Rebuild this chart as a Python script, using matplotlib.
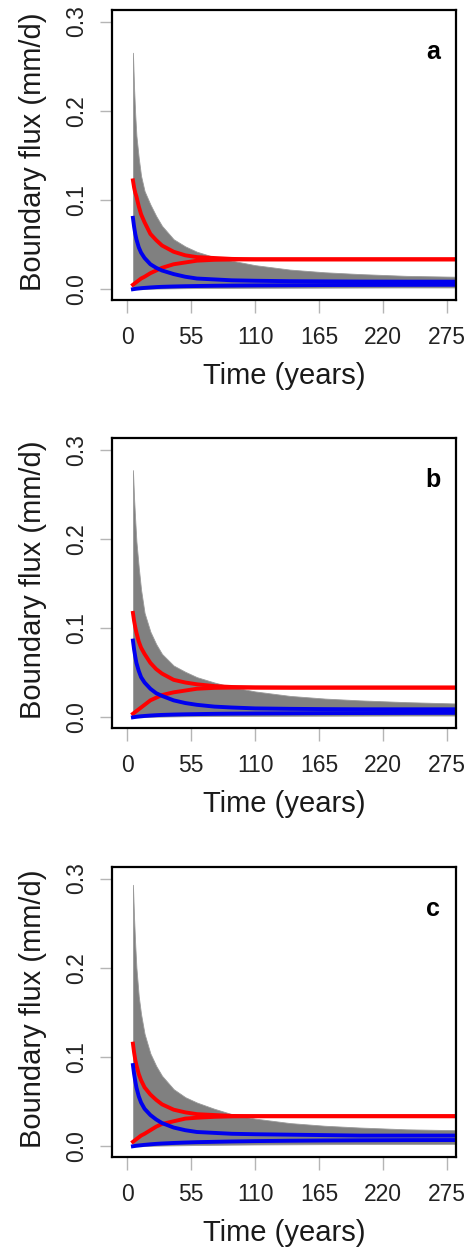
import matplotlib
matplotlib.use('Agg')
from matplotlib import pyplot as plt

plt.rcParams['font.family'] = ['Liberation Sans', 'DejaVu Sans']

# time (years)
years = [5, 6, 7, 8, 10, 12, 15, 20, 25, 30, 40, 50, 60, 75, 90, 110, 140, 170, 200, 240, 283]

# panel a
gray_hi_a = [0.265, 0.225, 0.195, 0.172, 0.147, 0.127, 0.110, 0.095, 0.082, 0.071, 0.056, 0.048, 0.042, 0.036, 0.032, 0.027, 0.022, 0.019, 0.017, 0.015, 0.014]
gray_lo_a = [0.0, 0.0, 0.0, 0.0, 0.0, 0.0, 0.0003, 0.0005, 0.0007, 0.0008, 0.001, 0.0012, 0.0013, 0.0014, 0.0015, 0.0016, 0.0017, 0.0018, 0.0019, 0.002, 0.002]
red_hi_a = [0.122, 0.114, 0.108, 0.104, 0.093, 0.084, 0.075, 0.062, 0.055, 0.049, 0.042, 0.038, 0.036, 0.035, 0.034, 0.0335, 0.0335, 0.0335, 0.0335, 0.0335, 0.0335]
red_lo_a = [0.005, 0.006, 0.007, 0.008, 0.010, 0.012, 0.014, 0.018, 0.021, 0.024, 0.028, 0.030, 0.032, 0.033, 0.0333, 0.0335, 0.0335, 0.0335, 0.0335, 0.0335, 0.0335]
blue_hi_a = [0.080, 0.070, 0.062, 0.056, 0.047, 0.041, 0.035, 0.028, 0.024, 0.021, 0.017, 0.014, 0.012, 0.011, 0.010, 0.0095, 0.009, 0.0088, 0.0086, 0.0085, 0.0085]
blue_lo_a = [0.0, 0.0002, 0.0004, 0.0006, 0.0009, 0.0012, 0.0015, 0.002, 0.0024, 0.0027, 0.0031, 0.0034, 0.0036, 0.0039, 0.0041, 0.0043, 0.0045, 0.0047, 0.0048, 0.0049, 0.005]

# panel b
gray_hi_b = [0.277, 0.245, 0.220, 0.197, 0.168, 0.143, 0.117, 0.096, 0.082, 0.071, 0.058, 0.051, 0.045, 0.039, 0.034, 0.029, 0.024, 0.021, 0.019, 0.017, 0.0155]
gray_lo_b = [0.0, 0.0, 0.0, 0.0, 0.0, 0.0, 0.0003, 0.0005, 0.0007, 0.0008, 0.001, 0.0012, 0.0013, 0.0014, 0.0015, 0.0016, 0.0017, 0.0018, 0.0019, 0.002, 0.002]
red_hi_b = [0.117, 0.108, 0.101, 0.095, 0.085, 0.078, 0.071, 0.061, 0.054, 0.049, 0.042, 0.039, 0.037, 0.035, 0.034, 0.0335, 0.0333, 0.0333, 0.0333, 0.0333, 0.0333]
red_lo_b = [0.004, 0.005, 0.006, 0.007, 0.009, 0.011, 0.014, 0.019, 0.022, 0.025, 0.028, 0.030, 0.032, 0.033, 0.0333, 0.0333, 0.0333, 0.0333, 0.0333, 0.0333, 0.0333]
blue_hi_b = [0.086, 0.076, 0.068, 0.061, 0.052, 0.045, 0.039, 0.032, 0.027, 0.024, 0.019, 0.016, 0.014, 0.012, 0.011, 0.010, 0.0095, 0.0092, 0.009, 0.009, 0.009]
blue_lo_b = [0.0, 0.0002, 0.0004, 0.0006, 0.0009, 0.0012, 0.0015, 0.002, 0.0024, 0.0027, 0.0031, 0.0034, 0.0036, 0.0039, 0.0041, 0.0043, 0.0045, 0.0047, 0.0048, 0.0049, 0.005]

# panel c
gray_hi_c = [0.293, 0.255, 0.225, 0.200, 0.168, 0.148, 0.126, 0.104, 0.090, 0.079, 0.064, 0.055, 0.049, 0.042, 0.036, 0.031, 0.026, 0.023, 0.021, 0.019, 0.018]
gray_lo_c = [0.0, 0.0, 0.0, 0.0, 0.0, 0.0, 0.0003, 0.0005, 0.0007, 0.0008, 0.001, 0.0012, 0.0014, 0.0016, 0.0018, 0.002, 0.0022, 0.0024, 0.0025, 0.0026, 0.0027]
red_hi_c = [0.115, 0.105, 0.097, 0.091, 0.081, 0.074, 0.066, 0.058, 0.052, 0.047, 0.041, 0.038, 0.036, 0.035, 0.034, 0.0337, 0.0337, 0.0337, 0.0337, 0.0337, 0.0337]
red_lo_c = [0.005, 0.006, 0.007, 0.008, 0.010, 0.012, 0.014, 0.018, 0.022, 0.025, 0.028, 0.031, 0.032, 0.033, 0.0335, 0.0337, 0.0337, 0.0337, 0.0337, 0.0337, 0.0337]
blue_hi_c = [0.091, 0.081, 0.073, 0.066, 0.056, 0.049, 0.042, 0.035, 0.030, 0.026, 0.021, 0.018, 0.016, 0.015, 0.014, 0.0135, 0.013, 0.0125, 0.012, 0.012, 0.012]
blue_lo_c = [0.0, 0.0002, 0.0004, 0.0006, 0.0009, 0.0012, 0.0016, 0.0022, 0.0027, 0.0031, 0.0037, 0.0042, 0.0046, 0.005, 0.0054, 0.0058, 0.0062, 0.0065, 0.0067, 0.0069, 0.007]

panels = [
    ('a', gray_hi_a, gray_lo_a, red_hi_a, red_lo_a, blue_hi_a, blue_lo_a),
    ('b', gray_hi_b, gray_lo_b, red_hi_b, red_lo_b, blue_hi_b, blue_lo_b),
    ('c', gray_hi_c, gray_lo_c, red_hi_c, red_lo_c, blue_hi_c, blue_lo_c),
]
xticks = [0, 55, 110, 165, 220, 275]
yticks = [0.0, 0.1, 0.2, 0.3]

fig = plt.figure(figsize=(4.67, 12.55), dpi=100)
bottoms = [0.7610, 0.4199, 0.0781]

for (lab, ghi, glo, rhi, rlo, bhi, blo), b in zip(panels, bottoms):
    ax = fig.add_axes([0.2398, b, 0.7366, 0.2311])
    ax.fill_between(years, glo, ghi, color='#808080', lw=0.6, edgecolor='#9a9a9a')
    ax.plot(years, rhi, color='#ff0000', lw=2.8)
    ax.plot(years, rlo, color='#ff0000', lw=2.8)
    ax.plot(years, bhi, color='#0000ee', lw=2.8)
    ax.plot(years, blo, color='#0000ee', lw=2.8)
    ax.set_xlim(-13, 282.7)
    ax.set_ylim(-0.012, 0.313)
    ax.set_xticks(xticks)
    ax.set_yticks(yticks)
    ax.set_xticklabels([str(v) for v in xticks])
    ax.set_yticklabels(['%.1f' % v for v in yticks], rotation=90, va='center')
    ax.tick_params(direction='out', length=9, width=1.0, color='#b5b5b5',
                   labelsize=16.5, labelcolor='#222222', pad=10)
    ax.tick_params(axis='y', pad=8)
    for s in ax.spines.values():
        s.set_linewidth(1.6)
        s.set_color('black')
    ax.set_xlabel('Time (years)', fontsize=21, color='#1a1a1a')
    ax.set_ylabel('Boundary flux (mm/d)', fontsize=21, color='#1a1a1a')
    ax.xaxis.set_label_coords(0.5, -0.215)
    ax.yaxis.set_label_coords(-0.19, 0.51)
    ax.text(0.933, 0.855, lab, transform=ax.transAxes, ha='center', va='center',
            fontsize=18, fontweight='bold')

fig.savefig('out.png', dpi=100)
